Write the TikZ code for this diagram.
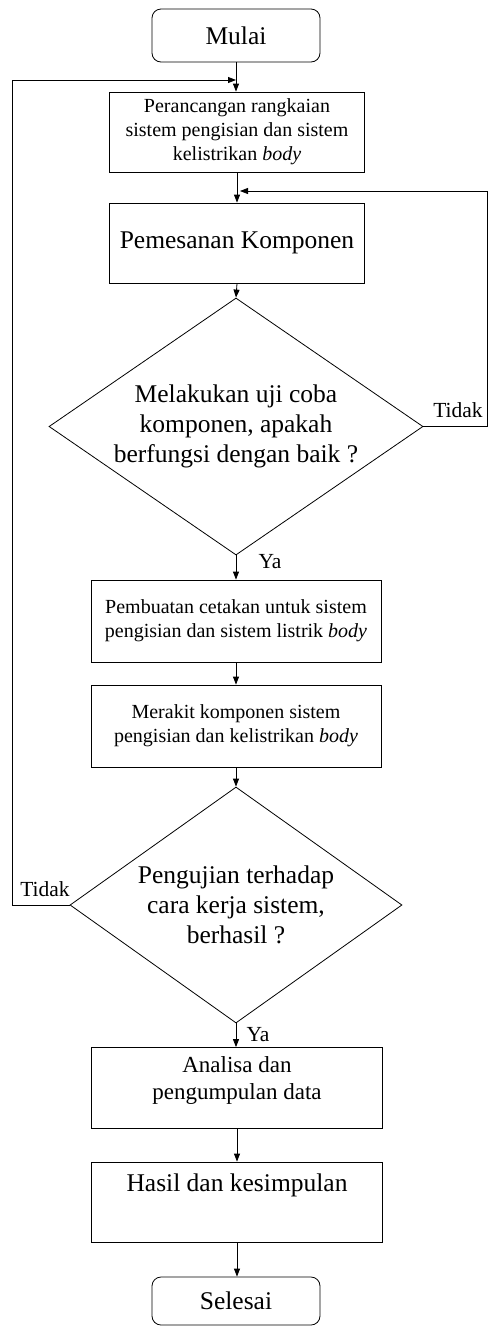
\documentclass[tikz,border=0pt]{standalone}
\usepackage{fontspec}
\setmainfont{Liberation Serif}
\usepackage{tikz}
\usetikzlibrary{arrows, arrows.meta, shapes.geometric}

\begin{document}
\begin{tikzpicture}[x=1pt, y=-1pt, line width=0.8pt,
  terminal/.style={draw, rounded corners=9pt, minimum width=168pt, inner sep=0pt, font=\fontsize{25.5}{30}\selectfont},
  process/.style={draw, minimum width=255pt, minimum height=80pt, inner sep=0pt, align=center, font=\fontsize{20}{24}\selectfont},
  bigprocess/.style={process, font=\fontsize{25.5}{30}\selectfont},
  decision/.style={draw, diamond, inner sep=0pt, align=center, font=\fontsize{25.5}{30}\selectfont},
  answer/.style={font=\fontsize{21.5}{26}\selectfont},
  arrow/.style={-{Triangle[length=8pt,width=6pt]}}]
\useasboundingbox (0,0) rectangle (488,1326);

%Start and end
\node[terminal, minimum height=53pt] (mulai) at (236,35.5){Mulai};
\node[terminal, minimum height=48pt] (selesai) at (236,1301){Selesai};

%Design and ordering
\node[process] (rancang) at (237,132){Perancangan rangkaian\\ sistem pengisian dan sistem\\ kelistrikan \textit{body}};
\node[bigprocess] (pesan) at (237,243){Pemesanan Komponen};

%Component test
\node[decision, minimum width=374pt, minimum height=257pt, aspect=1.455] (ujikomp) at (236,426.5){Melakukan uji coba\\ komponen, apakah\\ berfungsi dengan baik ?};
\node[answer] (tidak1) at (458,410){Tidak};
\node[answer] (ya1) at (270,562){Ya};

%Mould and assembly
\node[process, minimum width=290pt, minimum height=82pt] (cetak) at (236,621){Pembuatan cetakan untuk sistem\\ pengisian dan sistem listrik \textit{body}};
\node[process, minimum width=290pt, minimum height=82pt] (rakit) at (236,726){Merakit komponen sistem\\ pengisian dan kelistrikan \textit{body}};

%System test
\node[decision, minimum width=332pt, minimum height=236pt, aspect=1.407] (ujisistem) at (236,905){Pengujian terhadap\\ cara kerja sistem,\\ berhasil ?};
\node[answer] (tidak2) at (45,889){Tidak};
\node[answer] (ya2) at (258,1035){Ya};

%Data and conclusion
\node[process, minimum width=291pt, minimum height=81pt, font=\fontsize{23}{27}\selectfont] (analisa) at (237,1088){Analisa dan\\ pengumpulan data\\[-7pt]\mbox{}};
\node[bigprocess, minimum width=291pt] (hasil) at (237,1202){Hasil dan kesimpulan\\[8pt]\mbox{}};

%Loop targets
\coordinate (jointop) at (236,80);
\coordinate (joinmid) at (240,191);

%Main flow
\draw[arrow] (mulai.south) -- (mulai.south |- rancang.north);
\draw[arrow] (rancang.south) -- (pesan.north);
\draw[arrow] (pesan.south) -- (ujikomp.north);
\draw[arrow] (ujikomp.south) -- (cetak.north);
\draw[arrow] (cetak.south) -- (rakit.north);
\draw[arrow] (rakit.south) -- (ujisistem.north);
\draw[arrow] (ujisistem.south) -- (ujisistem.south |- analisa.north);
\draw[arrow] (analisa.south) -- (hasil.north);
\draw[arrow] (hasil.south) -- (hasil.south |- selesai.north);

%Loops back
\draw[arrow] (ujikomp.east) -- (487,426.5) |- (joinmid);
\draw[arrow] (ujisistem.west) -- (12,905) |- (jointop);

\end{tikzpicture}
\end{document}
